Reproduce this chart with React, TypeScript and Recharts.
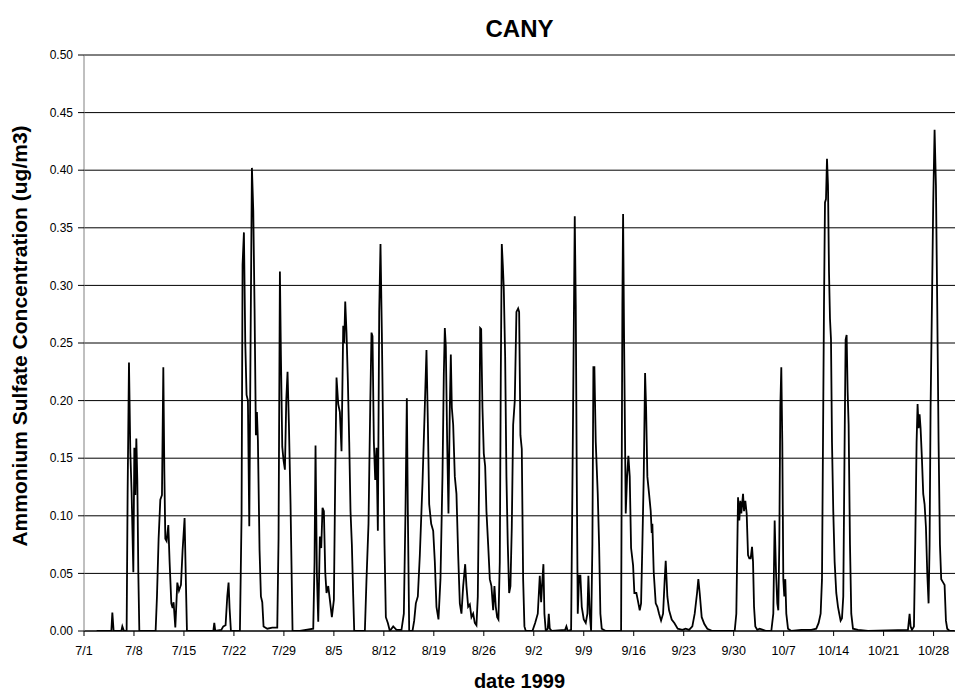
import React from 'react';
import { LineChart, Line, XAxis, YAxis, CartesianGrid } from 'recharts';

// Hourly-ish ammonium sulfate readings: [days since 7/1 00:00, concentration ug/m3]
const julyReadings: [number, number][] = [
  [1.77, 0], [3.83, 0], [3.97, 0.016], [4.15, 0], [5.23, 0], [5.37, 0.004], [5.6, 0], [5.97, 0],
  [6.11, 0.12], [6.3, 0.233], [6.49, 0.155], [6.67, 0.12], [6.91, 0.051], [7.05, 0.159], [7.19, 0.118],
  [7.33, 0.167], [7.47, 0.13], [7.61, 0.05], [7.75, 0], [10.03, 0], [10.22, 0.03], [10.45, 0.08],
  [10.69, 0.114], [10.92, 0.118], [11.11, 0.229], [11.25, 0.14], [11.39, 0.08], [11.57, 0.078],
  [11.81, 0.092], [11.99, 0.06], [12.23, 0.024], [12.41, 0.02], [12.55, 0.025], [12.79, 0.003],
  [13.07, 0.042], [13.3, 0.035], [13.58, 0.04], [13.81, 0.07], [14.09, 0.098], [14.28, 0.04],
  [14.42, 0], [18.11, 0], [18.25, 0.007], [18.39, 0], [19.23, 0.001], [19.51, 0.004], [19.83, 0.005],
  [20.07, 0.03], [20.25, 0.042], [20.39, 0.02], [20.58, 0], [21.84, 0], [22.07, 0.1], [22.21, 0.318],
  [22.4, 0.346], [22.59, 0.25], [22.77, 0.205], [22.96, 0.2], [23.15, 0.091], [23.33, 0.25],
  [23.52, 0.402], [23.71, 0.365], [23.89, 0.28], [24.08, 0.17], [24.22, 0.19], [24.36, 0.165],
  [24.59, 0.07], [24.78, 0.03], [24.97, 0.025], [25.15, 0.004], [25.67, 0.002], [26.37, 0.003],
  [27.07, 0.003], [27.25, 0.08], [27.44, 0.312], [27.58, 0.24], [27.77, 0.16], [27.95, 0.148],
  [28.14, 0.14], [28.33, 0.2], [28.51, 0.225], [28.7, 0.18], [28.93, 0.11], [29.21, 0],
];

const augustReadings: [number, number][] = [
  [30.24, 0], [32.11, 0.002], [32.29, 0.06], [32.43, 0.161], [32.62, 0.05], [32.81, 0.008],
  [33.04, 0.082], [33.23, 0.072], [33.41, 0.107], [33.6, 0.104], [33.79, 0.051], [33.97, 0.033],
  [34.21, 0.039], [34.44, 0.027], [34.72, 0.012], [35.0, 0.027], [35.19, 0.134], [35.37, 0.22],
  [35.61, 0.197], [35.84, 0.19], [36.07, 0.156], [36.31, 0.265], [36.45, 0.25], [36.59, 0.286],
  [36.77, 0.259], [36.96, 0.217], [37.15, 0.164], [37.33, 0.104], [37.52, 0.075], [37.71, 0.03],
  [37.85, 0], [39.34, 0], [39.57, 0.045], [39.85, 0.093], [40.09, 0.194], [40.27, 0.259],
  [40.41, 0.256], [40.6, 0.164], [40.79, 0.131], [40.97, 0.159], [41.16, 0.087], [41.35, 0.277],
  [41.53, 0.336], [41.72, 0.259], [41.91, 0.164], [42.09, 0.075], [42.28, 0.012], [42.56, 0.007],
  [42.84, 0], [43.31, 0.004], [43.77, 0.001], [44.47, 0.001], [44.8, 0.015], [45.03, 0.104],
  [45.22, 0.202], [45.36, 0.104], [45.55, 0], [46.01, 0], [46.25, 0.009], [46.48, 0.024],
  [46.76, 0.03], [47.04, 0.066], [47.41, 0.128], [47.69, 0.185], [47.97, 0.244], [48.16, 0.182],
  [48.35, 0.11], [48.63, 0.093], [48.91, 0.087], [49.14, 0.06], [49.37, 0.021], [49.65, 0.01],
  [49.93, 0.045], [50.21, 0.134], [50.4, 0.223], [50.54, 0.263], [50.68, 0.247], [50.87, 0.164],
  [51.05, 0.102], [51.24, 0.194], [51.38, 0.24], [51.52, 0.194], [51.71, 0.179], [51.94, 0.134],
  [52.17, 0.119], [52.41, 0.066], [52.64, 0.024], [52.87, 0.015], [53.11, 0.039], [53.39, 0.058],
  [53.57, 0.039], [53.81, 0.021], [54.04, 0.023], [54.27, 0.012], [54.51, 0.015], [54.74, 0.007],
  [54.97, 0.005], [55.16, 0.03], [55.35, 0.134], [55.49, 0.263], [55.63, 0.262], [55.81, 0.194],
  [56.0, 0.154], [56.19, 0.143], [56.37, 0.104], [56.61, 0.075], [56.84, 0.045], [57.07, 0.039],
  [57.31, 0.018], [57.49, 0.039], [57.68, 0.021], [57.87, 0.012], [58.05, 0.01], [58.24, 0.06],
  [58.38, 0.223], [58.52, 0.336], [58.66, 0.318], [58.8, 0.297], [58.99, 0.238], [59.17, 0.134],
  [59.36, 0.075], [59.55, 0.033], [59.73, 0.039], [59.92, 0.09], [60.11, 0.179], [60.34, 0.2],
  [60.57, 0.277], [60.81, 0.28],
];

const septemberReadings: [number, number][] = [
  [60.95, 0.277], [61.13, 0.17], [61.32, 0.158], [61.51, 0.045], [61.69, 0.004], [61.88, 0],
  [62.81, 0], [63.19, 0.007], [63.56, 0.015], [63.84, 0.048], [64.03, 0.025], [64.21, 0.045],
  [64.35, 0.058], [64.49, 0.015], [64.68, 0], [64.96, 0.002], [65.1, 0.015], [65.24, 0.002],
  [65.52, 0], [67.39, 0.001], [67.57, 0.004], [67.76, 0], [68.23, 0.001], [68.51, 0.194],
  [68.74, 0.36], [68.88, 0.283], [69.02, 0.134], [69.16, 0.015], [69.35, 0.048], [69.53, 0.048],
  [69.72, 0.021], [70.0, 0.01], [70.28, 0.007], [70.51, 0.015], [70.65, 0.048], [70.84, 0.015],
  [71.03, 0], [71.21, 0.075], [71.35, 0.229], [71.49, 0.229], [71.68, 0.164], [71.96, 0.119],
  [72.15, 0.075], [72.33, 0.015], [72.52, 0.002], [73.08, 0], [75.23, 0], [75.41, 0.283],
  [75.51, 0.362], [75.65, 0.253], [75.88, 0.102], [76.07, 0.134], [76.25, 0.152], [76.44, 0.134],
  [76.63, 0.072], [76.91, 0.057], [77.09, 0.033], [77.37, 0.033], [77.56, 0.027], [77.84, 0.018],
  [78.03, 0.024], [78.21, 0.075], [78.4, 0.134], [78.59, 0.224], [78.73, 0.194], [78.91, 0.134],
  [79.15, 0.119], [79.38, 0.104], [79.52, 0.085], [79.61, 0.093], [79.8, 0.051], [80.08, 0.024],
  [80.31, 0.021], [80.55, 0.015], [80.83, 0.009], [81.11, 0.015], [81.34, 0.045], [81.48, 0.061],
  [81.71, 0.03], [81.95, 0.018], [82.32, 0.01], [82.69, 0.007], [83.16, 0.002], [83.81, 0.001],
  [84.28, 0.002], [84.75, 0.001], [85.21, 0.004], [85.54, 0.015], [85.87, 0.033], [86.05, 0.045],
  [86.24, 0.033], [86.52, 0.012], [86.89, 0.006], [87.31, 0.002], [88.01, 0], [90.81, 0],
];

const octoberReadings: [number, number][] = [
  [91.14, 0], [91.37, 0.015], [91.61, 0.116], [91.79, 0.096], [91.93, 0.113], [92.07, 0.102],
  [92.31, 0.119], [92.45, 0.104], [92.63, 0.113], [92.82, 0.102], [93.01, 0.066], [93.19, 0.063],
  [93.38, 0.063], [93.57, 0.073], [93.71, 0.06], [93.85, 0.021], [94.03, 0.004], [94.31, 0.001],
  [94.64, 0.002], [95.11, 0.001], [95.57, 0], [96.27, 0], [96.55, 0.015], [96.74, 0.096],
  [96.93, 0.051], [97.11, 0.024], [97.25, 0.018], [97.39, 0.075], [97.53, 0.194], [97.67, 0.229],
  [97.81, 0.164], [97.95, 0.045], [98.09, 0.03], [98.23, 0.045], [98.37, 0.015], [98.61, 0.002],
  [99.07, 0], [100.47, 0.001], [101.87, 0.001], [102.57, 0.002], [102.9, 0.007], [103.18, 0.015],
  [103.37, 0.045], [103.51, 0.164], [103.65, 0.283], [103.79, 0.372], [103.93, 0.375],
  [104.07, 0.41], [104.21, 0.387], [104.35, 0.312], [104.49, 0.271], [104.63, 0.253],
  [104.77, 0.164], [104.95, 0.104], [105.14, 0.06], [105.37, 0.033], [105.61, 0.021],
  [105.79, 0.015], [105.98, 0.009], [106.17, 0.011], [106.35, 0.03], [106.54, 0.164],
  [106.68, 0.253], [106.82, 0.257], [106.96, 0.208], [107.1, 0.179], [107.29, 0.075],
  [107.47, 0.015], [107.71, 0.002], [108.41, 0.001], [109.81, 0], [115.41, 0.001],
  [115.64, 0.015], [115.78, 0.004], [115.97, 0.001], [116.25, 0.004], [116.43, 0.075],
  [116.62, 0.164], [116.76, 0.197], [116.9, 0.176], [117.04, 0.188], [117.18, 0.176],
  [117.37, 0.149], [117.55, 0.119], [117.74, 0.11], [117.93, 0.09], [118.11, 0.051],
  [118.3, 0.024], [118.44, 0.075], [118.58, 0.194], [118.77, 0.283], [118.95, 0.372],
  [119.14, 0.435], [119.33, 0.387], [119.51, 0.283], [119.7, 0.164], [119.89, 0.075],
  [120.07, 0.045], [120.35, 0.042], [120.54, 0.04], [120.73, 0.009], [120.91, 0.002],
  [121.24, 0], [121.94, 0],
];

const tickDays = [0, 7, 14, 21, 28, 35, 42, 49, 56, 63, 70, 77, 84, 91, 98, 105, 112, 119];
const tickLabels = ['7/1', '7/8', '7/15', '7/22', '7/29', '8/5', '8/12', '8/19', '8/26', '9/2', '9/9', '9/16', '9/23', '9/30', '10/7', '10/14', '10/21', '10/28'];
const yTicks = [0, 0.05, 0.1, 0.15, 0.2, 0.25, 0.3, 0.35, 0.4, 0.45, 0.5];

const chartTitle = 'CANY';
const xTitle = 'date 1999';
const yTitle = 'Ammonium Sulfate Concentration (ug/m3)';

const series = [...julyReadings, ...augustReadings, ...septemberReadings, ...octoberReadings].map(
  ([day, value]) => ({ day, value })
);

const FONT = '"Liberation Sans", Arial, sans-serif';

export default function App() {
  return (
    <div style={{ position: 'absolute', left: 0, top: 0, width: 955, height: 696, background: '#fff', fontFamily: FONT }}>
      <LineChart width={955} height={696} data={series} margin={{ top: 55, right: 0, bottom: 35, left: 0 }}>
        <CartesianGrid vertical={false} stroke="#000" strokeWidth={1} />
        <XAxis
          type="number"
          dataKey="day"
          domain={[0, 122]}
          ticks={tickDays}
          interval={0}
          tickFormatter={(d: number) => tickLabels[tickDays.indexOf(d)] ?? ''}
          height={30}
          tickSize={5}
          tickMargin={10}
          axisLine={{ stroke: '#000' }}
          tickLine={{ stroke: '#000' }}
          tick={{ fill: '#000', fontSize: 12.5, fontFamily: FONT }}
          allowDataOverflow
        />
        <YAxis
          type="number"
          domain={[0, 0.5]}
          ticks={yTicks}
          interval={0}
          tickFormatter={(v: number) => v.toFixed(2)}
          width={84}
          tickSize={6}
          tickMargin={5}
          axisLine={{ stroke: '#808080' }}
          tickLine={{ stroke: '#000' }}
          tick={{ fill: '#000', fontSize: 12, fontFamily: FONT }}
          allowDataOverflow
        />
        <Line
          type="linear"
          dataKey="value"
          stroke="#000"
          strokeWidth={1.8}
          dot={false}
          activeDot={false}
          isAnimationActive={false}
        />
      </LineChart>
      <svg width={955} height={696} style={{ position: 'absolute', left: 0, top: 0, pointerEvents: 'none' }}>
        <text x={519.5} y={37} textAnchor="middle" fontSize={24} fontWeight="bold" fontFamily={FONT} fill="#000">
          {chartTitle}
        </text>
        <text x={519.5} y={688} textAnchor="middle" fontSize={20} fontWeight="bold" fontFamily={FONT} fill="#000">
          {xTitle}
        </text>
        <text
          transform="translate(27,336) rotate(-90)"
          textAnchor="middle"
          fontSize={21}
          fontWeight="bold"
          fontFamily={FONT}
          fill="#000"
        >
          {yTitle}
        </text>
      </svg>
    </div>
  );
}
